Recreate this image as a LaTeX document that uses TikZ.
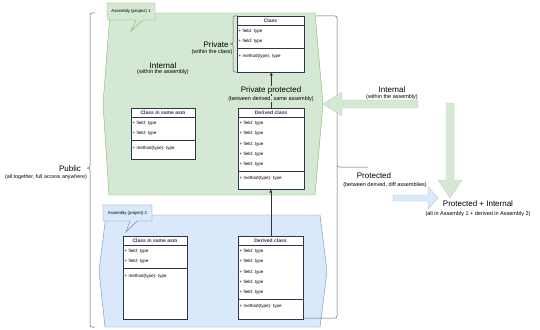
\documentclass[tikz,border=0pt]{standalone}
\usepackage{fontspec}
\setmainfont{Liberation Sans}
\usetikzlibrary{arrows.meta}
\definecolor{gfill}{HTML}{D5E8D4}
\definecolor{gline}{HTML}{82B366}
\definecolor{bfill}{HTML}{DAE8FC}
\definecolor{bline}{HTML}{6C8EBF}
\definecolor{garrline}{HTML}{B9D7B7}
\definecolor{barrline}{HTML}{A9C4EB}
\definecolor{brk}{HTML}{666666}
\definecolor{clsdark}{HTML}{33334D}
\tikzset{
  clsbox/.style={draw=clsdark, fill=white, line width=0.5pt, inner sep=0pt},
  clsline/.style={draw=clsdark, line width=0.5pt},
  clstext/.style={font=\fontsize{4.5}{5}\selectfont, anchor=west, inner sep=0pt},
  clstitle/.style={font=\bfseries\fontsize{5}{6}\selectfont, inner sep=0pt, text=clsdark},
  biglab/.style={font=\fontsize{8}{9.6}\selectfont, inner sep=0.5pt},
  smalllab/.style={font=\fontsize{5.5}{6.6}\selectfont, inner sep=0.5pt},
  calltext/.style={font=\fontsize{4.3}{5}\selectfont, inner sep=0pt},
  bracketline/.style={draw=brk, line width=0.5pt, rounded corners=2pt},
  assemblyG/.style={fill=gfill, draw=gline, line width=0.4pt},
  assemblyB/.style={fill=bfill, draw=bline, line width=0.4pt},
  blockG/.style={fill=gfill, draw=garrline, line width=0.4pt},
  blockB/.style={fill=bfill, draw=barrline, line width=0.4pt},
  conn/.style={draw=black!80, line width=0.5pt, -{Triangle[length=3pt,width=2.6pt]}}
}
\newcommand\umlcls[7]{%
  \node[clsbox, anchor=north west, minimum width=#4pt, minimum height={(#6-#3)*1pt}] (#1) at (#2,#3) {};
  \draw[clsline] (#2,#3+9.5) -- (#2+#4,#3+9.5);
  \node[clstitle] (#1-t) at (#2+#4/2,#3+5) {#7};
  \foreach \i in {1,...,#5} {
    \node[clstext] (#1-f\i) at (#2+1.5,#3+15.5+10.2*\i-10.2) {+ field: type};
  }
  \pgfmathsetmacro\sepy{#3+15.5+10.2*#5-3.5}
  \draw[clsline] (#2,\sepy) -- (#2+#4,\sepy);
  \node[clstext] (#1-m) at (#2+1.5,\sepy+7.5) {+ method(type): type};
}
\begin{document}
\begin{tikzpicture}[x=1pt,y=-1pt]
\useasboundingbox (0,0) rectangle (540,329);
\fill[white] (0,0) rectangle (540,329);

% Public bracket
\draw[bracketline] (95,13) -- (90,13) -- (90,168) -- (87,168);
\draw[bracketline] (87,168) -- (90,168) -- (90,327) -- (95,327);

% assemblies
\draw[assemblyG] (110,13) -- (315,13) -- (323,104) -- (315,195) -- (109,195) -- (103,104) -- cycle;
\draw[assemblyB] (106,215) -- (320,215) -- (327,271) -- (320,327) -- (105,327) -- (99,271) -- cycle;

% Protected bracket
\draw[bracketline] (316,16) -- (337,16) -- (337,167) -- (368,167);
\draw[bracketline] (337,166) -- (337,318) -- (303,318);

% Private bracket
\draw[bracketline] (238,16) -- (233,16) -- (233,44) -- (230,44);
\draw[bracketline] (230,44) -- (233,44) -- (233,72) -- (238,72);

% callouts
\draw[assemblyG] (107,3) -- (155,3) -- (155,20) -- (143,20) -- (131,31) -- (136,20) -- (107,20) -- cycle;
\node[calltext] (c1) at (131,11.5) {Assembly (project) 1};
\draw[assemblyB] (103,205) -- (152,205) -- (152,221) -- (137,221) -- (126,232) -- (130,221) -- (103,221) -- cycle;
\node[calltext] (c2) at (127.5,213) {Assembly (project) 2};

% block arrows
\draw[blockG] (418,100) -- (342,100) -- (342,92) -- (323,104) -- (342,116) -- (342,108) -- (418,108) -- cycle;
\draw[blockG] (446,103) -- (454,103) -- (454,180) -- (462,180) -- (450,198) -- (438,180) -- (446,180) -- cycle;
\draw[blockB] (393,195) -- (428,195) -- (428,187) -- (438,198) -- (428,209) -- (428,201) -- (393,201) -- cycle;

% classes
\umlcls{cls}{237}{16}{67}{2}{72}{Class}
\umlcls{gs}{131}{108}{64}{2}{159}{Class in same asm}
\umlcls{gd}{238}{108}{66}{5}{189}{Derived class}
\umlcls{bs}{123}{236}{64}{2}{319}{Class in same asm}
\umlcls{bd}{238}{236}{65}{5}{319}{Derived class}

% connectors
\draw[conn] (gd.north) -- (gd.north |- cls.south);
\draw[conn] (bd.north) -- (bd.north |- gd.south);

% labels
\node[biglab] (lpriv) at (216,45) {Private};
\node[smalllab] (lpriv2) at (212,52.5) {(within the class)};
\node[biglab] (lint) at (163,66) {Internal};
\node[smalllab] (lint2) at (163,72.5) {(within the assembly)};
\node[biglab, fill=gfill] (lpp) at (271,90) {Private protected};
\node[smalllab, fill=gfill] (lpp2) at (271,99) {(between derived, same assembly)};
\node[biglab] (lintr) at (392,90) {Internal};
\node[smalllab] (lintr2) at (392,97) {(within the assembly)};
\node[biglab] (lprot) at (374,176) {Protected};
\node[smalllab] (lprot2) at (385,185) {(between derived, diff assemblies)};
\node[biglab] (lpi) at (478,204) {Protected + Internal};
\node[smalllab] (lpi2) at (478,214) {(all in Assembly 1 + derived in Assembly 2)};
\node[biglab] (lpub) at (70,169) {Public};
\node[smalllab, font=\fontsize{5.3}{6}\selectfont] (lpub2) at (46,177.5) {(all together, full access anywhere)};
\end{tikzpicture}
\end{document}
